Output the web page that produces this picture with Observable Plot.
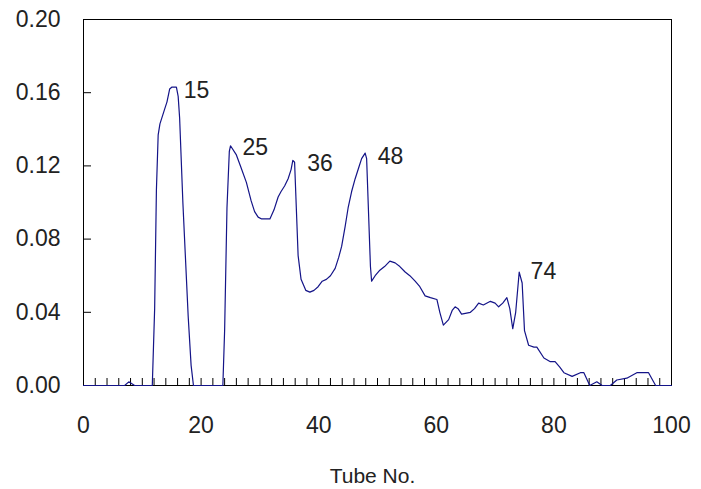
<!DOCTYPE html>
<html>
<head>
<meta charset="utf-8">
<script src="https://cdn.jsdelivr.net/npm/d3@7"></script>
<script src="https://cdn.jsdelivr.net/npm/@observablehq/plot@0.6"></script>
<style>
  html, body { margin: 0; padding: 0; background: #fff; }
  #chart svg { display: block; }
</style>
</head>
<body>
<div id="chart"></div>
<script>
// Elution profile: absorbance per tube number
const tube = [
  0, 7.0, 7.7, 8.7, 11.7, 12.1, 12.4, 12.7, 13.0, 13.8, 14.2, 14.65, 15.0, 15.8, 16.1, 16.35, 16.9, 17.8, 18.3, 18.7,
  23.7, 24.0, 24.4, 24.8, 25.0, 26.0, 26.8, 27.7, 28.5, 29.1, 29.7, 30.3, 31.7, 32.4, 33.1, 33.6, 34.2, 34.8, 35.3, 35.6, 35.9,
  36.5, 37.0, 37.4, 37.8, 38.5, 39.2, 39.9, 40.6, 41.3, 42.0, 42.8, 43.4, 43.9, 44.5, 45.0, 45.6, 46.2, 46.8, 47.3, 47.9,
  48.15, 48.8, 49.0, 49.6, 50.4, 51.2, 52.1, 53.0, 53.8, 54.7, 55.5, 56.4, 57.2, 58.1, 59.0, 60.1,
  60.6, 61.2, 62.1, 62.7, 63.2, 63.7, 64.3, 65.8, 66.5, 67.2, 68.0, 69.2, 70.0, 70.6, 71.3, 72.0,
  72.5, 73.0, 73.5, 74.1, 74.6, 75.0, 75.7, 76.6, 77.1, 78.3, 79.4, 80.2, 81.0, 81.7, 83.1, 84.5, 85.1,
  86.1, 87.3, 88.2, 89.6, 90.7, 92.4, 94.1, 96.1, 97.3, 100
];
const absorbance = [
  0, 0, 0.002, 0, 0, 0.042, 0.107, 0.137, 0.143, 0.151, 0.155, 0.162, 0.163, 0.163, 0.158, 0.146, 0.100, 0.038, 0.011, 0,
  0, 0.030, 0.097, 0.128, 0.131, 0.126, 0.119, 0.111, 0.101, 0.095, 0.092, 0.091, 0.091, 0.096, 0.103, 0.106, 0.109, 0.113, 0.118, 0.123, 0.122,
  0.071, 0.058, 0.055, 0.052, 0.051, 0.052, 0.054, 0.057, 0.058, 0.060, 0.064, 0.070, 0.076, 0.087, 0.097, 0.106, 0.113, 0.119, 0.124, 0.127,
  0.124, 0.065, 0.057, 0.060, 0.063, 0.065, 0.068, 0.067, 0.065, 0.062, 0.060, 0.057, 0.054, 0.049, 0.048, 0.047,
  0.040, 0.033, 0.036, 0.041, 0.043, 0.042, 0.039, 0.040, 0.042, 0.045, 0.044, 0.046, 0.045, 0.043, 0.045, 0.048,
  0.042, 0.031, 0.040, 0.062, 0.056, 0.030, 0.022, 0.021, 0.021, 0.015, 0.013, 0.013, 0.010, 0.007, 0.005, 0.007, 0.007,
  0, 0.002, 0, 0, 0.003, 0.004, 0.007, 0.007, 0, 0
];

// Peak fractions marked on the profile
const peakTubes = [15, 25, 36, 48, 74];
const peakValues = [0.161, 0.130, 0.121, 0.125, 0.062];

const xMajorTicks = [0, 20, 40, 60, 80, 100];
const xMinorTicks = d3.range(0, 101, 2);
const yTicks = [0, 0.04, 0.08, 0.12, 0.16, 0.20];
const xLabel = "Tube No.";

const series = tube.map((t, i) => ({tube: t, value: absorbance[i]}));
const peaks = peakTubes.map((t, i) => ({tube: t, value: peakValues[i], label: String(t)}));

const font = "'Liberation Sans', Arial, Helvetica, sans-serif";
const ink = "#222";

const chart = Plot.plot({
  width: 701,
  height: 489,
  marginLeft: 83,
  marginRight: 30,
  marginTop: 19,
  marginBottom: 104,
  style: {fontFamily: font, background: "#fff", color: ink},
  x: {domain: [0, 100]},
  y: {domain: [0, 0.2]},
  marks: [
    // inward tick marks
    Plot.axisX({ticks: xMinorTicks, tickSize: -7, tickFormat: () => "", stroke: "#000", label: null}),
    Plot.axisY({ticks: yTicks, tickSize: -8, tickFormat: () => "", stroke: "#000", label: null}),
    // tick labels
    Plot.axisX({ticks: xMajorTicks, tickSize: 0, tickPadding: 31, fontSize: 23, label: null, fill: ink}),
    Plot.axisY({ticks: yTicks, tickSize: 0, tickPadding: 23, fontSize: 23, tickFormat: d3.format(".2f"), label: null, fill: ink}),
    Plot.frame({stroke: "#000"}),
    Plot.line(series, {x: "tube", y: "value", stroke: "#141488", strokeWidth: 1.2}),
    Plot.text(peaks, {x: "tube", y: "value", text: "label", dx: 12, textAnchor: "start", fontSize: 23, fill: ink}),
    Plot.text([xLabel], {frameAnchor: "bottom", dy: 97, dx: -5, fontSize: 21, fill: ink})
  ]
});

document.getElementById("chart").appendChild(chart);
</script>
</body>
</html>
